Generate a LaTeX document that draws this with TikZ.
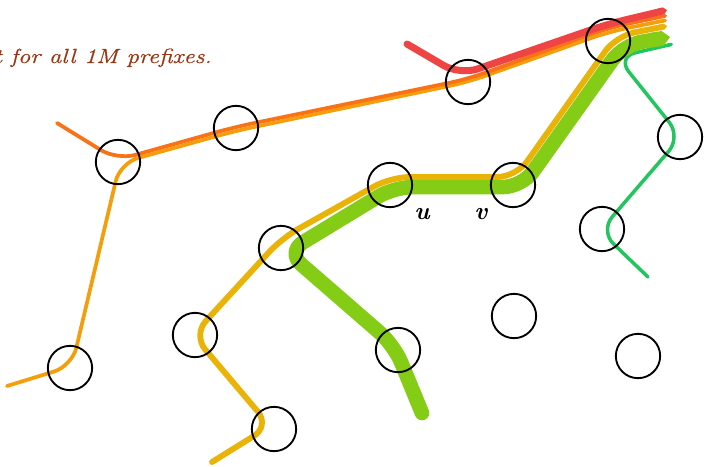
\documentclass[tikz,border=0pt]{standalone}
\usepackage{fontspec}
\usepackage{tikz}
\usetikzlibrary{arrows.meta,backgrounds}
\newfontfamily\notefont[FakeStretch=1.2,FakeBold=0.6]{Latin Modern Roman}
\definecolor{route-red}{HTML}{EF4444}
\definecolor{route-orange}{HTML}{F97316}
\definecolor{route-amber}{HTML}{F59E0B}
\definecolor{route-yellow}{HTML}{EAB308}
\definecolor{route-lime}{HTML}{84CC16}
\definecolor{route-green}{HTML}{22C55E}
\definecolor{note-brown}{HTML}{9A3412}
\tikzset{
  router/.style={draw=black, circle, line width=1.6pt, minimum size=1.33cm, inner sep=0pt},
  route/.style={line cap=round, line join=round, rounded corners=16pt, -{Triangle Cap}},
  route-red/.style={route, draw=route-red, line width=6pt},
  route-orange/.style={route, draw=route-orange, line width=3.2pt},
  route-amber/.style={route, draw=route-amber, line width=3.2pt},
  route-yellow/.style={route, draw=route-yellow, line width=5pt},
  route-lime/.style={route, draw=route-lime, line width=12.5pt},
  route-green/.style={route, draw=route-green, line width=3pt},
  node-label/.style={font=\fontsize{21}{21}\selectfont\bfseries\itshape, inner sep=0pt},
  prefix-note/.style={font=\notefont\fontsize{17.5}{17.5}\selectfont\itshape, text=note-brown, inner sep=0pt}
}

\begin{document}
\begin{tikzpicture}[x=0.03cm, y=-0.03cm]
  \useasboundingbox (0,0) rectangle (704,466);
  % routers
  \node[router] (A) at (468,82) {};
  \node[router] (B) at (608,41) {};
  \node[router] (C) at (236,128) {};
  \node[router] (D) at (118,162) {};
  \node[router] (E) at (680,137) {};
  \node[router] (u) at (390,185) {};
  \node[router] (v) at (513,185) {};
  \node[router] (H) at (602,229) {};
  \node[router] (I) at (281,248) {};
  \node[router] (J) at (195,335) {};
  \node[router] (K) at (514,316) {};
  \node[router] (L) at (398,350) {};
  \node[router] (M) at (638,356) {};
  \node[router] (N) at (70,368) {};
  \node[router] (O) at (274,429) {};
  \node[node-label] (u-label) at (422,214) {u};
  \node[node-label] (v-label) at (481,214) {v};
  \node[prefix-note, anchor=base east] (note) at (212,63) {t for all 1M prefixes.};
  % free ends of the routes
  \coordinate (red-start) at (407,44);
  \coordinate (red-end) at (667,10);
  \coordinate (orange-start) at (57,123);
  \coordinate (orange-end) at (667,15.5);
  \coordinate (amber-start) at (7,386);
  \coordinate (amber-end) at (667,20);
  \coordinate (yellow-start) at (212,462);
  \coordinate (yellow-end) at (667,26);
  \coordinate (lime-start) at (422,413);
  \coordinate (lime-end) at (670,37);
  \coordinate (green-start) at (648,277);
  \coordinate (green-end) at (673,44);
  % routes, under the routers
  \begin{scope}[on background layer]
    \draw[route-green] (green-start) -- ([shift={(-2,2)}]H.center)
      -- ([shift={(1,0)}]E.center) -- ([shift={(9,16)}]B.center) -- (green-end);
    \draw[route-lime] (lime-start) -- ([shift={(-4,-5)}]L.center)
      -- ([shift={(6,4)}]I.center) -- ([shift={(4,2)}]u.center)
      -- ([shift={(9,2)}]v.center) -- ([shift={(15,4)}]B.center) -- (lime-end);
    \draw[route-yellow] (yellow-start) -- ([shift={(-4,-3)}]O.center)
      -- ([shift={(-2,0)}]J.center) -- ([shift={(1,-10)}]I.center)
      -- ([shift={(1,-8)}]u.center) -- ([shift={(3,-8)}]v.center)
      -- ([shift={(8,-5)}]B.center) -- (yellow-end);
    \draw[route-amber] (amber-start) -- ([shift={(2,-2)}]N.center)
      -- ([shift={(2,1)}]D.center) -- ([shift={(-1,3)}]C.center)
      -- (A.center) -- ([shift={(0,-9)}]B.center) -- (amber-end);
    \draw[route-orange] (orange-start) -- ([shift={(-1,-2)}]D.center)
      -- ([shift={(-1,-1)}]C.center) -- ([shift={(0,-3)}]A.center)
      -- ([shift={(0,-13)}]B.center) -- (orange-end);
    \draw[route-red] (red-start) -- ([shift={(-8,-7)}]A.center)
      -- ([shift={(0,-17)}]B.center) -- (red-end);
  \end{scope}
\end{tikzpicture}
\end{document}
